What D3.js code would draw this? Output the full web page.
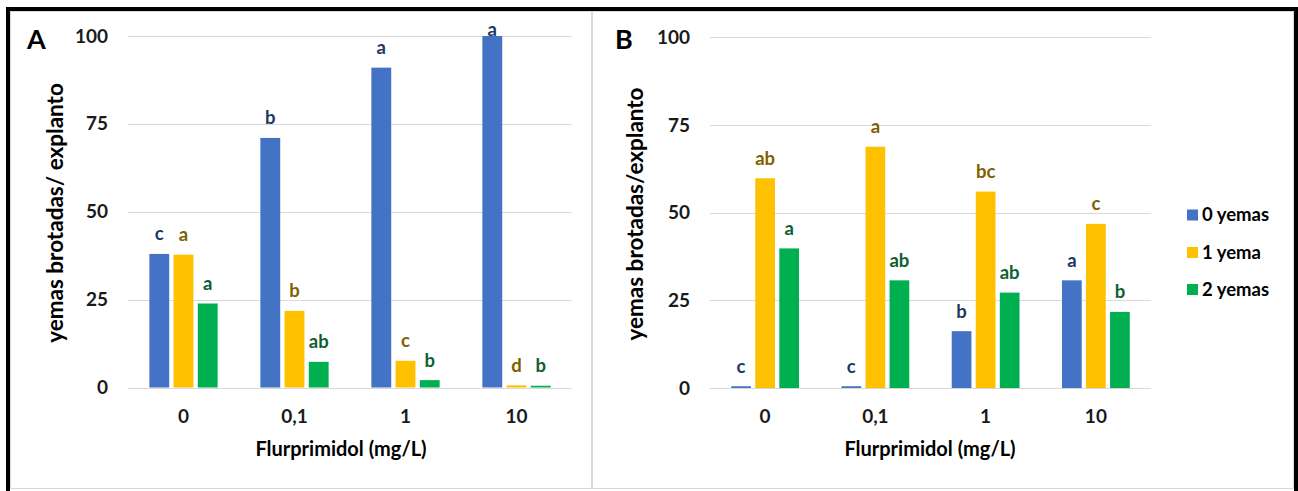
<!DOCTYPE html>
<html>
<head>
<meta charset="utf-8">
<script src="https://cdn.jsdelivr.net/npm/d3@7"></script>
<style>
  body { margin: 0; background: #ffffff; }
  svg { display: block; }
  text { font-family: Lato, "Open Sans", sans-serif; font-weight: 700; }
</style>
</head>
<body>
<svg id="fig" width="1298" height="491"></svg>
<script>
// Concentraciones de flurprimidol (categorías del eje X)
const categories = ["0", "0,1", "1", "10"];
const seriesNames = ["0 yemas", "1 yema", "2 yemas"];
const yTicks = [0, 25, 50, 75, 100];

// Panel A: porcentaje de explantos según yemas brotadas
const aCeroYemas = [38, 71, 91, 100];
const aUnaYema = [37.8, 21.8, 7.6, 0.6];
const aDosYemas = [23.9, 7.3, 2.1, 0.5];
const aLetrasCero = ["c", "b", "a", "a"];
const aLetrasUna = ["a", "b", "c", "d"];
const aLetrasDos = ["a", "ab", "b", "b"];

// Panel B
const bCeroYemas = [0.5, 0.5, 16.2, 30.7];
const bUnaYema = [59.8, 68.8, 56, 46.8];
const bDosYemas = [39.8, 30.7, 27.2, 21.7];
const bLetrasCero = ["c", "c", "b", "a"];
const bLetrasUna = ["ab", "a", "bc", "c"];
const bLetrasDos = ["a", "ab", "ab", "b"];

const barColors = ["#4472C4", "#FFC000", "#00B050"];
const letterColors = ["#203864", "#7F6000", "#0E5F31"];

const svg = d3.select("#fig");

// Marco general y bordes de cada gráfico
svg.append("rect").attr("x", 10.5).attr("y", 11.5).attr("width", 581).attr("height", 477)
  .attr("fill", "none").attr("stroke", "#d9d9d9").attr("stroke-width", 1);
svg.append("rect").attr("x", 592.5).attr("y", 11.5).attr("width", 701).attr("height", 477)
  .attr("fill", "none").attr("stroke", "#d9d9d9").attr("stroke-width", 1);
svg.append("rect").attr("x", 8).attr("y", 9).attr("width", 1288).attr("height", 494)
  .attr("fill", "none").attr("stroke", "#000").attr("stroke-width", 4);

function drawPanel(cfg) {
  const g = svg.append("g");
  const x0 = d3.scaleBand().domain(categories).range([cfg.left, cfg.right])
    .paddingInner(0.385).paddingOuter(0.1925);
  const x1 = d3.scaleBand().domain(d3.range(3)).range([0, x0.bandwidth()])
    .paddingInner(0.18).paddingOuter(0);
  const y = d3.scaleLinear().domain([0, 100]).range([cfg.bottom, cfg.top]);

  // Líneas de cuadrícula
  g.append("g").selectAll("line").data(yTicks).join("line")
    .attr("x1", cfg.left).attr("x2", cfg.right)
    .attr("y1", d => Math.round(y(d)) + 0.5).attr("y2", d => Math.round(y(d)) + 0.5)
    .attr("stroke", "#d9d9d9").attr("stroke-width", 1);

  // Eje Y
  const yAxis = d3.axisLeft(y).tickValues(yTicks).tickSize(0).tickPadding(20);
  const ya = g.append("g").attr("transform", `translate(${cfg.left},0)`).call(yAxis);
  ya.select(".domain").remove();
  ya.selectAll("text").attr("font-size", 19).attr("fill", "#1a1a1a")
    .style("font-family", "Lato, sans-serif").style("font-weight", 700);

  // Eje X
  const xAxis = d3.axisBottom(x0).tickSize(0).tickPadding(22);
  const xa = g.append("g").attr("transform", `translate(0,${cfg.bottom})`).call(xAxis);
  xa.select(".domain").remove();
  xa.selectAll("text").attr("font-size", 19).attr("fill", "#1a1a1a")
    .style("font-family", "Lato, sans-serif").style("font-weight", 700);

  // Barras y letras de significancia
  cfg.series.forEach((vals, s) => {
    const rows = categories.map((c, i) => ({ c, v: vals[i], l: cfg.letters[s][i] }));
    g.append("g").selectAll("rect").data(rows).join("rect")
      .attr("x", d => x0(d.c) + x1(s))
      .attr("width", x1.bandwidth())
      .attr("y", d => y(d.v))
      .attr("height", d => y(0) - y(d.v))
      .attr("fill", barColors[s]);
    g.append("g").selectAll("text").data(rows).join("text")
      .attr("x", d => x0(d.c) + x1(s) + x1.bandwidth() / 2)
      .attr("y", d => Math.max(y(d.v) - 20, cfg.top - 6))
      .attr("dy", "0.35em")
      .attr("text-anchor", "middle")
      .attr("font-size", 18.5)
      .attr("fill", letterColors[s])
      .text(d => d.l);
  });

  // Títulos de ejes
  g.append("text")
    .attr("transform", `translate(${cfg.yTitleX},${cfg.yTitleY}) rotate(-90)`)
    .attr("text-anchor", "middle").attr("font-size", 22.5).attr("fill", "#000")
    .text(cfg.yTitle);
  g.append("text")
    .attr("x", cfg.xTitleX).attr("y", 456)
    .attr("text-anchor", "middle").attr("font-size", 20).attr("fill", "#000")
    .text("Flurprimidol (mg/L)");

  // Letra del panel
  g.append("text").attr("x", cfg.tagX).attr("y", 49).attr("font-size", 27)
    .attr("fill", "#000").text(cfg.tag);
}

drawPanel({
  left: 128, right: 572, top: 36, bottom: 387.5,
  series: [aCeroYemas, aUnaYema, aDosYemas],
  letters: [aLetrasCero, aLetrasUna, aLetrasDos],
  yTitle: "yemas brotadas/ explanto", yTitleX: 63, yTitleY: 213,
  xTitleX: 341, tag: "A", tagX: 27
});

drawPanel({
  left: 710, right: 1151, top: 37.3, bottom: 388,
  series: [bCeroYemas, bUnaYema, bDosYemas],
  letters: [bLetrasCero, bLetrasUna, bLetrasDos],
  yTitle: "yemas brotadas/explanto", yTitleX: 643, yTitleY: 214,
  xTitleX: 930, tag: "B", tagX: 615
});

// Leyenda
const legend = svg.append("g");
seriesNames.forEach((name, i) => {
  const cy = [215, 252.5, 289.5][i];
  legend.append("rect").attr("x", 1187).attr("y", cy - 5.5).attr("width", 11).attr("height", 11)
    .attr("fill", barColors[i]);
  legend.append("text").attr("x", 1202).attr("y", cy).attr("dy", "0.35em")
    .attr("font-size", 18.5).attr("fill", "#000").text(name);
});
</script>
</body>
</html>
